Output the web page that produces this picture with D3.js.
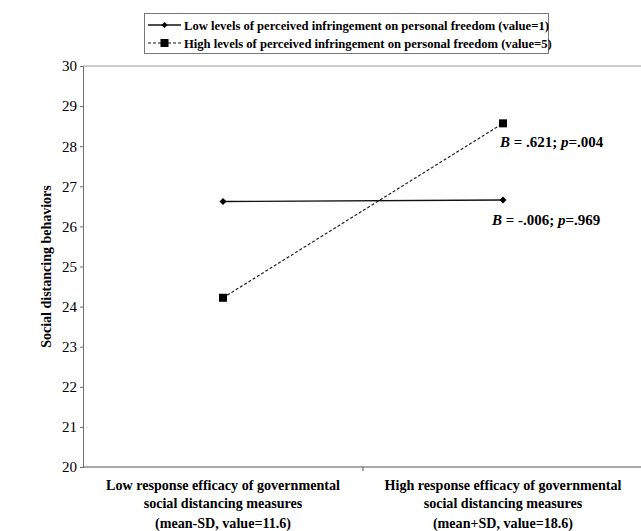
<!DOCTYPE html>
<html>
<head>
<meta charset="utf-8">
<script src="https://cdn.jsdelivr.net/npm/d3@7"></script>
<style>
  body { margin: 0; background: #fff; }
</style>
</head>
<body>
<div class="canva"></div>
<script>
// data
const categories = ["low", "high"];
const categoryLabels = [
    ["Low response efficacy of governmental", "social distancing measures", "(mean-SD, value=11.6)"],
    ["High response efficacy of governmental", "social distancing measures", "(mean+SD, value=18.6)"]
];
const lowFreedom = [26.62, 26.66];
const highFreedom = [24.22, 28.57];
const seriesNames = [
    "Low levels of perceived infringement on personal freedom (value=1)",
    "High levels of perceived infringement on personal freedom (value=5)"
];
const slopeNotes = [
    { series: "high", B: ".621", p: ".004" },
    { series: "low", B: "-.006", p: ".969" }
];
const yTicks = [20, 21, 22, 23, 24, 25, 26, 27, 28, 29, 30];

const serif = "Liberation Serif";
const width = 641, height = 531;
const margin = { top: 66, right: -2, bottom: 64, left: 83 };

const svg = d3.select(".canva").append("svg")
    .attr("width", width)
    .attr("height", height)
    .style("font-family", serif);

const x = d3.scaleBand()
    .domain(categories)
    .range([margin.left, width - margin.right]);

const y = d3.scaleLinear()
    .domain([20, 30])
    .range([height - margin.bottom, margin.top]);

const cx = d => x(d) + x.bandwidth() / 2;

// top border of plot area
svg.append("line")
    .attr("x1", margin.left).attr("x2", width)
    .attr("y1", y(30)).attr("y2", y(30))
    .attr("stroke", "#9a9a9a");

// y axis
const yAxis = d3.axisLeft(y)
    .tickValues(yTicks)
    .tickSize(3)
    .tickPadding(3)
    .tickFormat(d3.format("d"));

const gy = svg.append("g")
    .attr("transform", `translate(${margin.left},0)`)
    .call(yAxis);
gy.attr("font-family", null);
gy.select(".domain").attr("stroke", "#6e6e6e");
gy.selectAll(".tick line").attr("stroke", "#6e6e6e");
gy.selectAll(".tick text")
    .style("font-family", serif)
    .attr("font-size", 15)
    .attr("fill", "#000");

// x axis: line plus tick at band boundary
svg.append("line")
    .attr("x1", margin.left).attr("x2", width)
    .attr("y1", y(20)).attr("y2", y(20))
    .attr("stroke", "#555");
svg.append("line")
    .attr("x1", x("high")).attr("x2", x("high"))
    .attr("y1", y(20)).attr("y2", y(20) + 4)
    .attr("stroke", "#555");

// category labels
const lineY = [485, 503, 523];
categories.forEach((c, i) => {
    const t = svg.append("text")
        .style("font-family", serif)
        .attr("text-anchor", "middle")
        .attr("font-weight", "bold")
        .attr("font-size", 14.1);
    categoryLabels[i].forEach((s, j) => {
        t.append("tspan")
            .attr("x", cx(c))
            .attr("y", lineY[j] + 5)
            .text(s);
    });
});

// y axis title
svg.append("text")
    .style("font-family", serif)
    .attr("transform", `translate(51, ${(y(20) + y(30)) / 2}) rotate(-90)`)
    .attr("text-anchor", "middle")
    .attr("font-weight", "bold")
    .attr("font-size", 14)
    .text("Social distancing behaviors");

// lines
const line = d3.line()
    .x((d, i) => cx(categories[i]))
    .y(d => y(d));

svg.append("path")
    .datum(lowFreedom)
    .attr("d", line)
    .attr("fill", "none")
    .attr("stroke", "#111")
    .attr("stroke-width", 1.4);

svg.append("path")
    .datum(highFreedom)
    .attr("d", line)
    .attr("fill", "none")
    .attr("stroke", "#222")
    .attr("stroke-width", 1.2)
    .attr("stroke-dasharray", "3,2");

const diamond = d3.symbol().type(d3.symbolDiamond2).size(32);

svg.selectAll(".lowpt")
    .data(lowFreedom)
    .join("path")
    .attr("class", "lowpt")
    .attr("transform", (d, i) => `translate(${cx(categories[i])},${y(d)})`)
    .attr("d", diamond)
    .attr("fill", "#000");

svg.selectAll(".highpt")
    .data(highFreedom)
    .join("rect")
    .attr("class", "highpt")
    .attr("x", (d, i) => cx(categories[i]) - 4)
    .attr("y", d => y(d) - 4)
    .attr("width", 8)
    .attr("height", 8)
    .attr("fill", "#000");

// slope annotations
const noteY = { high: 147, low: 225 };
const noteX = { high: 500, low: 492 };
slopeNotes.forEach(n => {
    const t = svg.append("text")
        .style("font-family", serif)
        .attr("x", noteX[n.series])
        .attr("y", noteY[n.series])
        .attr("font-weight", "bold")
        .attr("font-size", 15);
    t.append("tspan").attr("font-style", "italic").text("B");
    t.append("tspan").text(` = ${n.B}; `);
    t.append("tspan").attr("font-style", "italic").text("p");
    t.append("tspan").text(`=${n.p}`);
});

// legend
const legend = svg.append("g");
legend.append("rect")
    .attr("x", 144.5).attr("y", 13.5)
    .attr("width", 404).attr("height", 40)
    .attr("fill", "#fff")
    .attr("stroke", "#777");

const legendRows = [25, 43];
seriesNames.forEach((name, i) => {
    const ly = legendRows[i];
    legend.append("line")
        .attr("x1", 148).attr("x2", 181)
        .attr("y1", ly).attr("y2", ly)
        .attr("stroke", "#111")
        .attr("stroke-width", i === 0 ? 1.4 : 1.2)
        .attr("stroke-dasharray", i === 0 ? null : "3,2");
    if (i === 0) {
        legend.append("path")
            .attr("transform", `translate(164.5,${ly})`)
            .attr("d", d3.symbol().type(d3.symbolDiamond2).size(24))
            .attr("fill", "#000");
    } else {
        legend.append("rect")
            .attr("x", 160.5).attr("y", ly - 4)
            .attr("width", 8).attr("height", 8)
            .attr("fill", "#000");
    }
    legend.append("text")
        .style("font-family", serif)
        .attr("x", 184)
        .attr("y", ly + 4.5)
        .attr("font-weight", "bold")
        .attr("font-size", 12.6)
        .text(name);
});
</script>
</body>
</html>
